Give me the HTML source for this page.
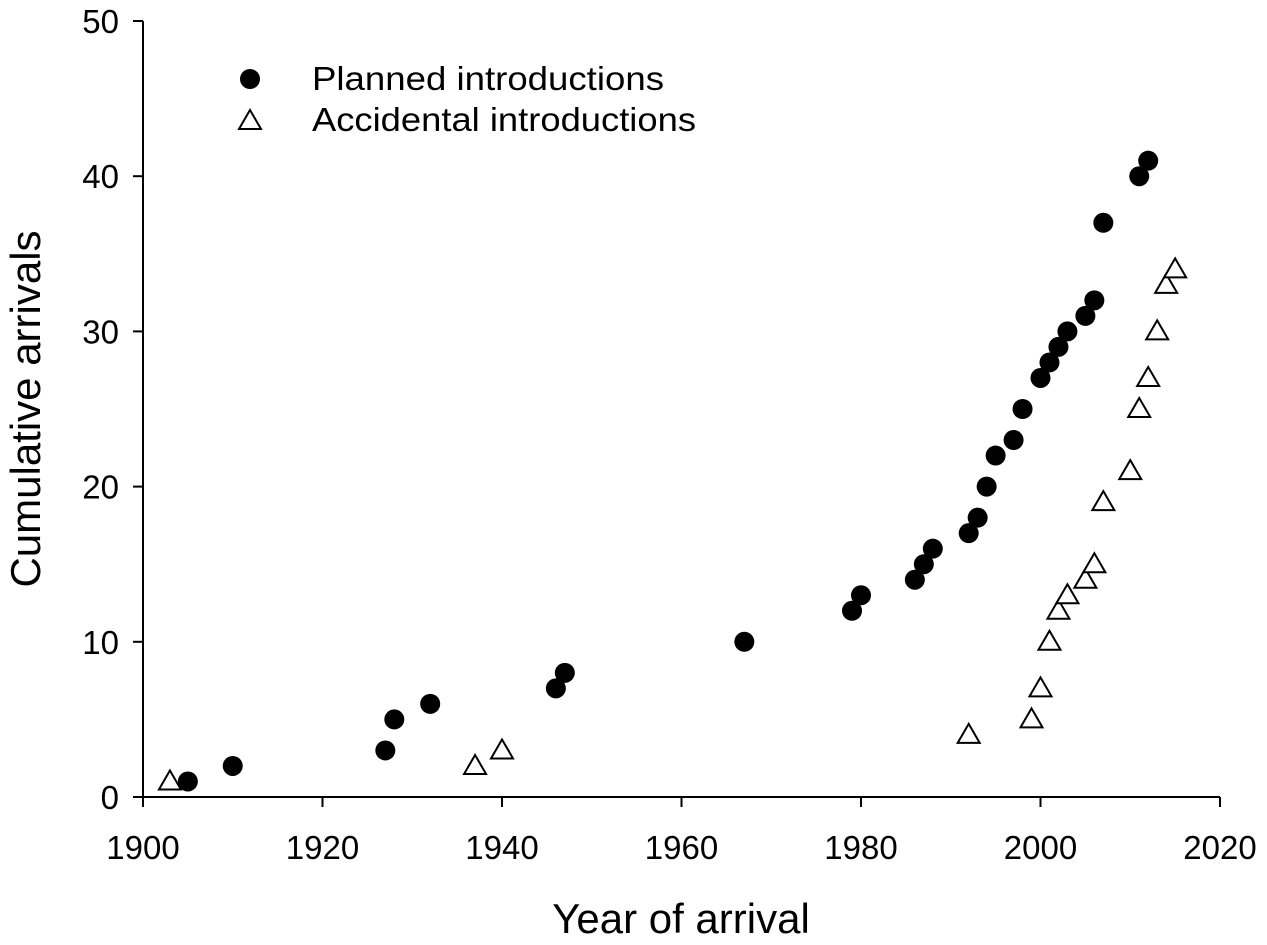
<!DOCTYPE html>
<html><head><meta charset="utf-8"><style>
html,body{margin:0;padding:0;background:#fff;}
svg{display:block;font-family:"Liberation Sans",Arial,sans-serif;}
</style></head><body>
<svg id="chart" width="1267" height="945" viewBox="0 0 1267 945" xmlns="http://www.w3.org/2000/svg">
<g id="axes"></g>
<g id="marks"></g>
<g>
<circle cx="250" cy="79" r="10" fill="#000"/>
<text x="312" y="90" font-size="33" textLength="352" lengthAdjust="spacingAndGlyphs">Planned introductions</text>
<polygon points="250,110 261,129 239,129" fill="#fff" stroke="#000" stroke-width="2"/>
<text x="312" y="131" font-size="33" textLength="384" lengthAdjust="spacingAndGlyphs">Accidental introductions</text>
</g>
<text x="681" y="933" font-size="42" text-anchor="middle">Year of arrival</text>
<text transform="translate(40,409) rotate(-90)" font-size="42" text-anchor="middle">Cumulative arrivals</text>
</svg>
<script>
const plannedYears=[1905,1910,1927,1928,1932,1946,1947,1967,1979,1980,1986,1987,1988,1992,1993,1994,1995,1997,1998,2000,2001,2002,2003,2005,2006,2007,2011,2012];
const plannedCounts=[1,2,3,5,6,7,8,10,12,13,14,15,16,17,18,20,22,23,25,27,28,29,30,31,32,37,40,41];
const accidentalYears=[1903,1937,1940,1992,1999,2000,2001,2002,2003,2005,2006,2007,2010,2011,2012,2013,2014,2015];
const accidentalCounts=[1,2,3,4,5,7,10,12,13,14,15,19,21,25,27,30,33,34];
const xTicks=[1900,1920,1940,1960,1980,2000,2020];
const yTicks=[0,10,20,30,40,50];
const NS="http://www.w3.org/2000/svg";
const x0=143,x1=1220,y0=797,y1=21;
const xs=v=>x0+(v-1900)/120*(x1-x0);
const ys=v=>y0-v/50*(y0-y1);
const axes=document.getElementById('axes'),marks=document.getElementById('marks');
function mk(tag,attrs,parent){const e=document.createElementNS(NS,tag);for(const k in attrs)e.setAttribute(k,attrs[k]);parent.appendChild(e);return e;}
let l=mk('line',{x1:x0,y1:y0,x2:x1,y2:y0,stroke:'#000','stroke-width':2},axes);


l=mk('line',{x1:x0,y1:y0,x2:x0,y2:y1,stroke:'#000','stroke-width':2},axes);


xTicks.forEach(t=>{
 const tk=mk('line',{x1:xs(t),y1:y0,x2:xs(t),y2:y0+10,stroke:'#000','stroke-width':2},axes);
 
 
 const tx=mk('text',{x:xs(t),y:y0+62,'font-size':33,'text-anchor':'middle'},axes);tx.textContent=t;
 
 
});
yTicks.forEach(t=>{
 const tk=mk('line',{x1:x0-10,y1:ys(t),x2:x0,y2:ys(t),stroke:'#000','stroke-width':2},axes);
 
 
 const tx=mk('text',{x:x0-24,y:ys(t)+12,'font-size':33,'text-anchor':'end'},axes);tx.textContent=t;
 
 
});
plannedYears.forEach((yr,i)=>{
 const c=mk('circle',{cx:xs(yr),cy:ys(plannedCounts[i]),r:10,fill:'#000'},marks);
 
 
});
accidentalYears.forEach((yr,i)=>{
 const cx=xs(yr),cy=ys(accidentalCounts[i]);
 const p=mk('polygon',{points:`${cx},${cy-11} ${cx+11},${cy+8} ${cx-11},${cy+8}`,fill:'#fff',stroke:'#000','stroke-width':2},marks);
 
 
});
</script>
</body></html>
